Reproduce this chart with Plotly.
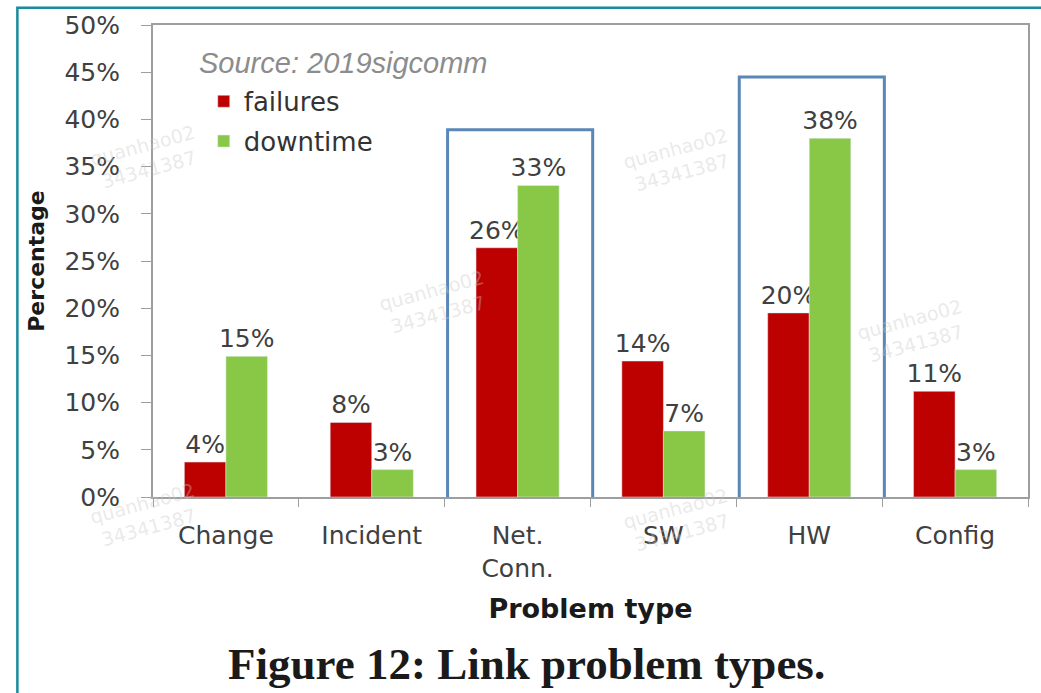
import plotly.graph_objects as go

# ---- data ----
categories = ["Change", "Incident", "Net.<br>Conn.", "SW", "HW", "Config"]
failures = [3.7, 7.9, 26.4, 14.4, 19.5, 11.2]
downtime = [14.9, 2.9, 33.0, 7.0, 38.0, 2.9]
failures_labels = ["4%", "8%", "26%", "14%", "20%", "11%"]
downtime_labels = ["15%", "3%", "33%", "7%", "38%", "3%"]
y_ticks = [0, 5, 10, 15, 20, 25, 30, 35, 40, 45, 50]
y_tick_labels = [f"{v}%" for v in y_ticks]

# highlighted categories (index, box top in %)
highlight_idx = [2, 4]
highlight_top = [38.9, 44.5]

RED = "#bd0000"
GREEN = "#88c846"
TICK = "#404040"
SANS = "DejaVu Sans"

fig = go.Figure()
fig.add_trace(go.Bar(
    x=categories, y=failures, name="failures", marker_color=RED,
    text=failures_labels, textposition="outside", cliponaxis=False,
    constraintext="none", textfont=dict(family=SANS, size=25, color=TICK),
    legendgroup="f",
))
fig.add_trace(go.Bar(
    x=categories, y=downtime, name="downtime", marker_color=GREEN,
    text=downtime_labels, textposition="outside", cliponaxis=False,
    constraintext="none", textfont=dict(family=SANS, size=25, color=TICK),
    legendgroup="d",
))

shapes = []
for i, top in zip(highlight_idx, highlight_top):
    shapes.append(dict(type="rect", xref="x", yref="y",
                       x0=i - 0.48, x1=i + 0.515, y0=-1.6, y1=top,
                       line=dict(color="#5a86b8", width=3), layer="above"))
# outer teal frame of the screenshot
shapes.append(dict(type="rect", xref="paper", yref="paper",
                   x0=-0.155, x1=1.05, y0=-0.5, y1=1.0365,
                   line=dict(color="#1a8a9e", width=2.5)))

annotations = [
    dict(text="Source: 2019sigcomm", xref="paper", yref="paper",
         x=0.050, y=0.920, xanchor="left", yanchor="middle", showarrow=False,
         font=dict(family="Liberation Sans", size=29, color="#8c8c8c", style="italic")),
    dict(text="<b>Figure 12: Link problem types.</b>", xref="paper", yref="paper",
         x=0.4265, y=-0.353, xanchor="center", yanchor="middle", showarrow=False,
         font=dict(family="Liberation Serif", size=45, color="#1a1a1a")),
]
wm_pos = [(-0.0775, 0.8025), (0.253, 0.330), (0.601, 0.796),
          (0.937, 0.351), (-0.0775, -0.122), (0.601, -0.132)]
for (wx, wy) in wm_pos:
    annotations.append(dict(text="quanhao02<br>34341387", xref="paper", yref="paper",
                            x=wx, y=wy, showarrow=False, textangle=-15,
                            font=dict(family=SANS, size=19, color="rgba(200,200,200,0.4)")))

fig.update_layout(
    width=1041, height=693,
    margin=dict(l=153, r=11, t=19, b=196),
    paper_bgcolor="white", plot_bgcolor="white",
    barmode="group", bargap=0.43, bargroupgap=0,
    font=dict(family=SANS, color=TICK),
    legend=dict(x=0.058, y=0.888, xanchor="left", yanchor="top",
                bgcolor="rgba(0,0,0,0)", traceorder="grouped", tracegroupgap=3,
                font=dict(family=SANS, size=26, color="#333333")),
    shapes=shapes, annotations=annotations,
    xaxis=dict(
        showline=True, linecolor="#9e9e9e", linewidth=2, mirror=True,
        ticks="outside", tickson="boundaries", ticklen=8, tickcolor="#9e9e9e",
        tickfont=dict(family=SANS, size=25, color=TICK),
        ticklabelstandoff=15,
        title=dict(text="<b>Problem type</b>", standoff=18,
                   font=dict(family=SANS, size=27, color="#1a1a1a")),
        showgrid=False,
    ),
    yaxis=dict(
        range=[0, 50], tickvals=y_ticks, ticktext=y_tick_labels,
        showline=True, linecolor="#9e9e9e", linewidth=2, mirror=True,
        ticks="outside", ticklen=10, tickcolor="#9e9e9e",
        tickfont=dict(family=SANS, size=25, color=TICK),
        ticklabelstandoff=16,
        title=dict(text="<b>Percentage</b>", standoff=14,
                   font=dict(family=SANS, size=22, color="#1a1a1a")),
        showgrid=False, zeroline=False,
    ),
)

fig.write_html("out.html",
               config={"displayModeBar": False},
               post_script="document.body.style.margin='0';")
